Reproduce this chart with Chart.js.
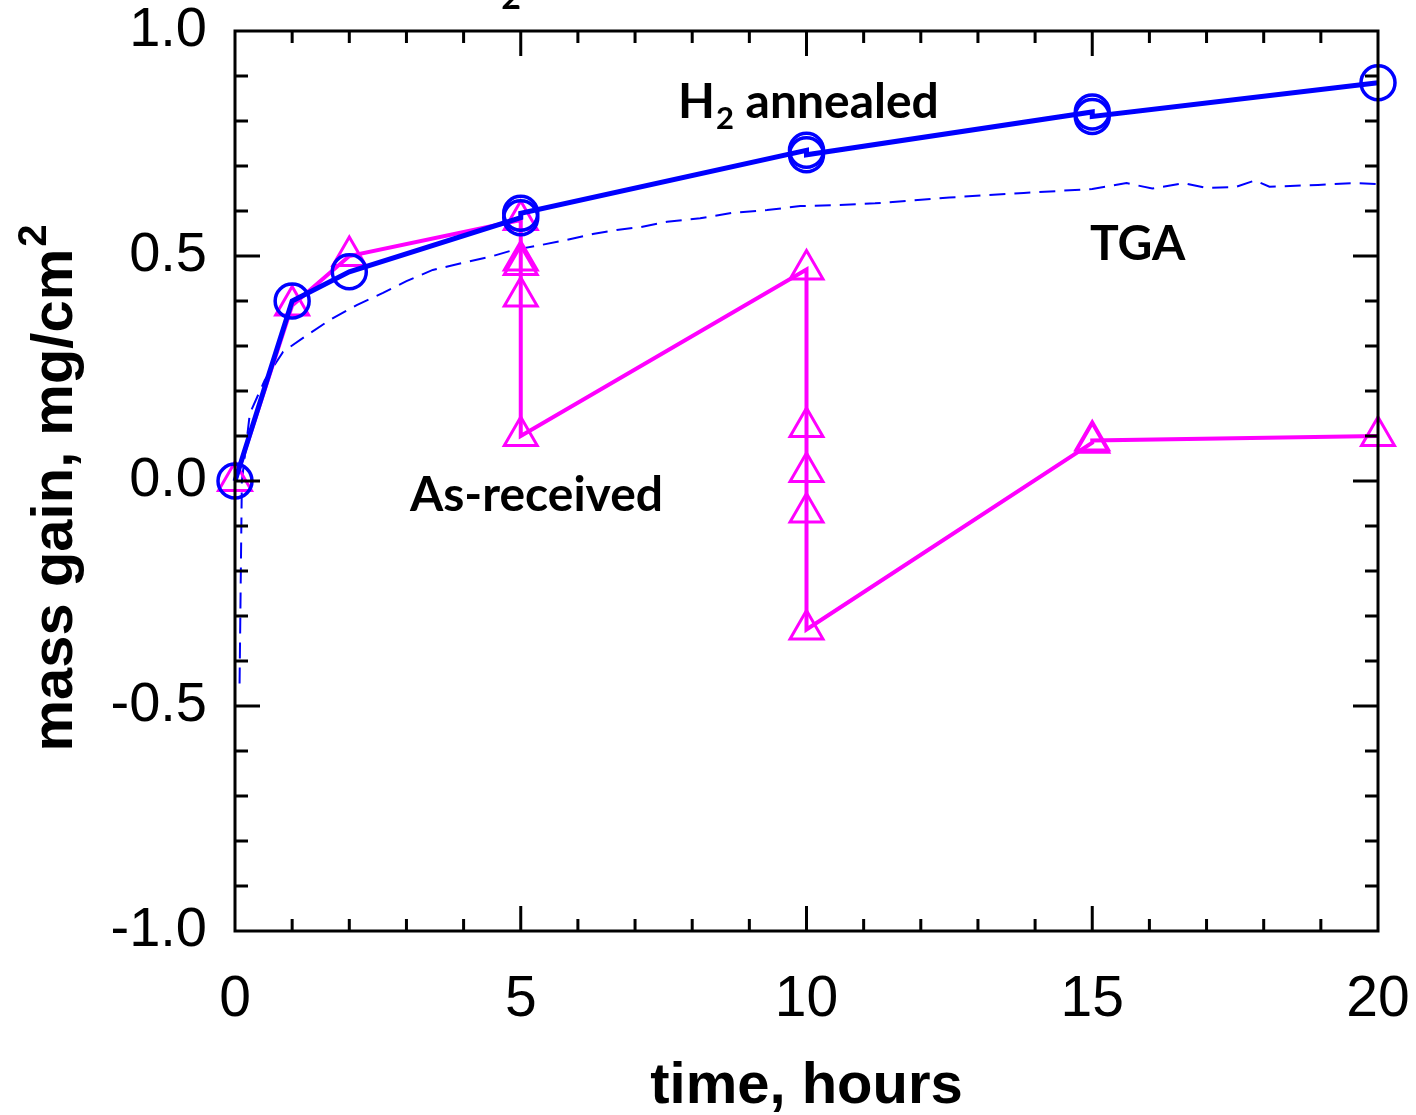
<!DOCTYPE html>
<html>
<head>
<meta charset="utf-8">
<script src="https://cdn.jsdelivr.net/npm/chart.js@4.4.1/dist/chart.umd.min.js"></script>
<style>
  html, body { margin: 0; padding: 0; background: #fff; }
  #chart { display: block; }
</style>
</head>
<body>
<canvas id="chart" width="1416" height="1115"></canvas>
<script>
(function () {
    "use strict";

    // H2 annealed coupons (circles)
    var h2Hours = [0, 1, 2, 5, 5, 10, 10, 15, 15, 20];
    var h2Gain = [0, 0.40, 0.465, 0.585, 0.595, 0.735, 0.725, 0.82, 0.81, 0.885];

    // as-received coupons (triangles)
    var asRecHours = [0, 1, 2, 5, 5, 5, 5, 5, 10, 10, 10, 10, 10, 15, 15, 20];
    var asRecGain = [0, 0.39, 0.50, 0.58, 0.49, 0.48, 0.41, 0.10, 0.47, 0.12, 0.02, -0.07, -0.33, 0.085, 0.09, 0.10];

    // TGA trace (dashed)
    var tgaHours = [0.08, 0.12, 0.26, 0.52, 0.84, 1.26, 1.66, 2.13, 2.59, 3.0, 3.46, 4.06, 4.46, 4.86, 5.34, 5.81,
        6.26, 6.68, 7.09, 7.56, 8.14, 8.71, 9.31, 9.89, 10.5, 11.2, 12.5, 13.8, 15.0, 15.6, 16.05, 16.6, 17.0,
        17.5, 17.85, 18.1, 18.95, 19.6, 20.0];
    var tgaGain = [-0.45, 0.0, 0.15, 0.224, 0.287, 0.324, 0.358, 0.391, 0.418, 0.444, 0.469, 0.487, 0.498, 0.513,
        0.524, 0.536, 0.549, 0.558, 0.564, 0.576, 0.584, 0.596, 0.602, 0.611, 0.613, 0.617, 0.63, 0.64, 0.649,
        0.662, 0.65, 0.662, 0.651, 0.653, 0.668, 0.654, 0.658, 0.662, 0.66];

    var xMajor = [0, 5, 10, 15, 20];

    var noteText = ['As-received', 'TGA'];
    var noteX = [3.06, 14.96];
    var noteY = [-0.067, 0.491];

    var boldSans = '"Liberation Sans", Arial, sans-serif';
    var noteFont = 'Lato, "Open Sans", sans-serif';

    function toPoints(xs, ys) {
        var pts = [];
        for (var i = 0; i < xs.length; i++) {
            pts.push({x: xs[i], y: ys[i]});
        }
        return pts;
    }

    var framePlugin = {
        id: 'frame',
        afterDraw: function (chart) {
            var ctx = chart.ctx;
            var a = chart.chartArea;
            var xs = chart.scales.x;
            var ys = chart.scales.y;
            ctx.save();
            ctx.strokeStyle = '#000';
            ctx.lineWidth = 3;
            ctx.beginPath();
            var h, v, p, len;
            for (h = 1; h < 20; h++) {
                p = xs.getPixelForValue(h);
                len = xMajor.indexOf(h) >= 0 ? 25 : 12;
                ctx.moveTo(p, a.bottom);
                ctx.lineTo(p, a.bottom - len);
                ctx.moveTo(p, a.top);
                ctx.lineTo(p, a.top + len);
            }
            for (v = -9; v <= 9; v++) {
                p = ys.getPixelForValue(v / 10);
                len = (v % 5 === 0) ? 25 : 13;
                ctx.moveTo(a.left, p);
                ctx.lineTo(a.left + len, p);
                ctx.moveTo(a.right, p);
                ctx.lineTo(a.right - len, p);
            }
            ctx.stroke();
            ctx.strokeRect(a.left, a.top, a.right - a.left, a.bottom - a.top);

            // y title with a real superscript
            ctx.fillStyle = '#000';
            ctx.translate(72, (a.top + a.bottom) / 2 + 8);
            ctx.rotate(-Math.PI / 2);
            ctx.textBaseline = 'alphabetic';
            ctx.font = 'bold 58px ' + boldSans;
            var main = 'mass gain, mg/cm';
            var w1 = ctx.measureText(main).width;
            ctx.font = 'bold 40px ' + boldSans;
            var w2 = ctx.measureText('2').width;
            var x0 = -(w1 + w2) / 2;
            ctx.font = 'bold 58px ' + boldSans;
            ctx.fillText(main, x0, 0);
            ctx.font = 'bold 40px ' + boldSans;
            ctx.fillText('2', x0 + w1 + 2, -26);
            ctx.restore();
        }
    };

    var notePlugin = {
        id: 'notes',
        afterDraw: function (chart) {
            var ctx = chart.ctx;
            var xs = chart.scales.x;
            var ys = chart.scales.y;
            var big = 'bold 48px ' + noteFont;
            var small = 'bold 31px ' + noteFont;
            ctx.save();
            ctx.fillStyle = '#000';
            ctx.textAlign = 'left';
            ctx.textBaseline = 'alphabetic';
            ctx.font = big;
            for (var i = 0; i < noteText.length; i++) {
                ctx.fillText(noteText[i], xs.getPixelForValue(noteX[i]), ys.getPixelForValue(noteY[i]));
            }
            // H2 annealed with subscript
            var x = xs.getPixelForValue(7.75);
            var y = ys.getPixelForValue(0.807);
            ctx.fillText('H', x, y);
            x += ctx.measureText('H').width + 1;
            ctx.font = small;
            ctx.fillText('2', x, y + 11);
            x += ctx.measureText('2').width;
            ctx.font = big;
            ctx.fillText(' annealed', x, y);
            // clipped subscript of the title above the frame
            ctx.font = 'bold 34px ' + noteFont;
            ctx.fillText('2', xs.getPixelForValue(4.66), ys.getPixelForValue(1.05));
            ctx.restore();
        }
    };

    var ctx = document.getElementById('chart').getContext('2d');
    var chart = new Chart(ctx, {
        type: 'line',
        data: {
            datasets: [{
                label: 'H2 annealed',
                data: toPoints(h2Hours, h2Gain),
                borderColor: '#0000ff',
                borderWidth: 5,
                pointStyle: 'circle',
                pointRadius: 17,
                pointBorderWidth: 3.5,
                pointBorderColor: '#0000ff',
                pointBackgroundColor: 'rgba(0,0,0,0)',
                clip: false,
                tension: 0
            }, {
                label: 'As-received',
                data: toPoints(asRecHours, asRecGain),
                borderColor: '#ff00ff',
                borderWidth: 4,
                pointStyle: 'triangle',
                pointRadius: 19,
                pointBorderWidth: 3,
                pointBorderColor: '#ff00ff',
                pointBackgroundColor: 'rgba(0,0,0,0)',
                clip: false,
                tension: 0
            }, {
                label: 'TGA',
                data: toPoints(tgaHours, tgaGain),
                borderColor: '#0000ff',
                borderWidth: 2,
                borderDash: [16, 9],
                pointRadius: 0,
                tension: 0
            }]
        },
        options: {
            responsive: false,
            animation: false,
            devicePixelRatio: 1,
            layout: {
                padding: {top: 31, right: 38, left: 0, bottom: 0}
            },
            plugins: {
                legend: {display: false},
                tooltip: {enabled: false}
            },
            scales: {
                x: {
                    type: 'linear',
                    min: 0,
                    max: 20,
                    grid: {display: false, drawTicks: false},
                    border: {display: false},
                    afterFit: function (s) {
                        s.height = 184;
                        s.paddingLeft = 0;
                        s.paddingRight = 0;
                    },
                    ticks: {
                        stepSize: 5,
                        autoSkip: false,
                        maxRotation: 0,
                        padding: 35,
                        color: '#000',
                        font: {family: boldSans, size: 57},
                        callback: function (v) { return xMajor.indexOf(v) >= 0 ? String(v) : ''; }
                    },
                    title: {
                        display: true,
                        text: 'time, hours',
                        color: '#000',
                        padding: {top: 0, bottom: -7},
                        font: {family: boldSans, size: 58, weight: 'bold'}
                    }
                },
                y: {
                    type: 'linear',
                    min: -1,
                    max: 1,
                    grid: {display: false, drawTicks: false},
                    border: {display: false},
                    afterFit: function (s) {
                        s.width = 235;
                        s.paddingTop = 0;
                        s.paddingBottom = 0;
                    },
                    ticks: {
                        stepSize: 0.5,
                        autoSkip: false,
                        padding: 28,
                        color: '#000',
                        font: {family: boldSans, size: 56, lineHeight: 1},
                        callback: function (v) { return v.toFixed(1); }
                    }
                }
            }
        },
        plugins: [framePlugin, notePlugin]
    });
})();
</script>
</body>
</html>
